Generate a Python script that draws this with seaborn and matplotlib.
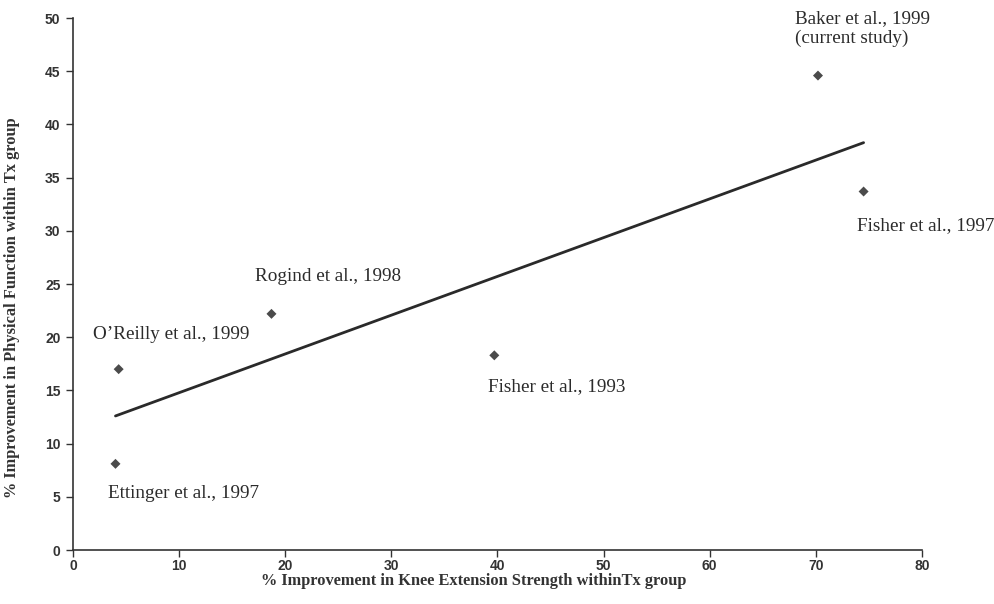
import numpy as np
import pandas as pd
import matplotlib
matplotlib.use("Agg")
import matplotlib.pyplot as plt
import seaborn as sns

# Data
studies = ["Ettinger et al., 1997", "O\u2019Reilly et al., 1999", "Rogind et al., 1998",
           "Fisher et al., 1993", "Baker et al., 1999\n(current study)", "Fisher et al., 1997"]
knee_strength = [4.0, 4.3, 18.7, 39.7, 70.2, 74.5]
phys_function = [8.1, 17.0, 22.2, 18.3, 44.6, 33.7]
x_ticks = [0, 10, 20, 30, 40, 50, 60, 70, 80]
y_ticks = [0, 5, 10, 15, 20, 25, 30, 35, 40, 45, 50]

# label anchor positions (styling)
label_pos = [(3.3, 5.3), (1.9, 20.3), (17.15, 25.75), (39.1, 15.4), (68.0, 49.0), (73.9, 30.5)]

df = pd.DataFrame({"x": knee_strength, "y": phys_function, "study": studies})

sns.set_style("white")
fig = plt.figure(figsize=(9.95, 6.04), dpi=100)
ax = fig.add_axes([0.0734, 0.0894, 0.8532, 0.8806])

ink = "#1e1e1e"
sns.regplot(data=df, x="x", y="y", ci=None, ax=ax, marker="D",
            scatter_kws=dict(s=26, color=ink, edgecolors="none"),
            line_kws=dict(color="#2a2a2a", lw=2.0))

for (lx, ly), s in zip(label_pos, studies):
    ax.text(lx, ly, s, ha="left", va="center", fontsize=13.8, family="Liberation Serif",
            color="#2b2b2b", linespacing=1.2)

ax.set_xlim(0, 80)
ax.set_ylim(0, 50)
ax.set_xticks(x_ticks)
ax.set_yticks(y_ticks)
for lab in ax.get_xticklabels() + ax.get_yticklabels():
    lab.set_fontfamily("Liberation Sans")
    lab.set_fontweight("bold")
    lab.set_fontsize(10)
    lab.set_color("#333333")
ax.tick_params(axis="both", direction="out", length=5, width=1.0, color="#333333", pad=4,
               left=True, bottom=True)
ax.tick_params(axis="x", pad=1.5)
for side in ["top", "right"]:
    ax.spines[side].set_visible(False)
for side in ["left", "bottom"]:
    ax.spines[side].set_color("#333333")
    ax.spines[side].set_linewidth(1.2)

ax.set_xlabel("% Improvement in Knee Extension Strength withinTx group", family="Liberation Serif",
              fontweight="bold", fontsize=11.8, color="#333333")
ax.set_ylabel("% Improvement in Physical Function within Tx group", family="Liberation Serif",
              fontweight="bold", fontsize=11.8, color="#333333")
ax.xaxis.set_label_coords(0.472, -0.043)
ax.yaxis.set_label_coords(-0.062, 0.455)

fig.savefig("out.png", dpi=100)
